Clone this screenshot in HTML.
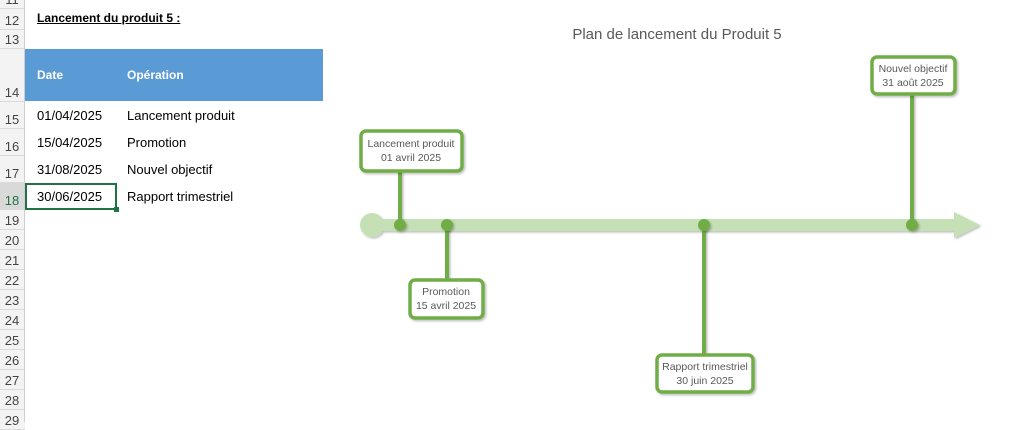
<!DOCTYPE html>
<html><head><meta charset="utf-8"><style>
body{margin:0;width:1021px;height:422px;overflow:hidden;background:#fff;font-family:"Liberation Sans",sans-serif;position:relative}
.rh{position:absolute;left:0;width:25px;background:#f3f3f3;border-bottom:1px solid #dadada;box-sizing:border-box;color:#444;font-size:13px;text-align:center;line-height:1;}
.rh span{position:absolute;bottom:2px;left:0;width:24px;text-align:center}
.vline{position:absolute;left:24px;top:0;width:1px;height:422px;background:#cfcfcf}
.t{position:absolute;font-size:13px;color:#000;white-space:nowrap}
</style></head><body>
<div class="rh" style="top:-10px;height:19px"><span>11</span></div>
<div class="rh" style="top:9px;height:21px"><span>12</span></div>
<div class="rh" style="top:30px;height:19px"><span>13</span></div>
<div class="rh" style="top:49px;height:53px"><span>14</span></div>
<div class="rh" style="top:102px;height:27px"><span>15</span></div>
<div class="rh" style="top:129px;height:27px"><span>16</span></div>
<div class="rh" style="top:156px;height:27px"><span>17</span></div>
<div class="rh" style="top:183px;height:27px;background:#d9d9d9;color:#217346"><span>18</span></div>
<div class="rh" style="top:210px;height:20px"><span>19</span></div>
<div class="rh" style="top:230px;height:20px"><span>20</span></div>
<div class="rh" style="top:250px;height:20px"><span>21</span></div>
<div class="rh" style="top:270px;height:20px"><span>22</span></div>
<div class="rh" style="top:290px;height:20px"><span>23</span></div>
<div class="rh" style="top:310px;height:20px"><span>24</span></div>
<div class="rh" style="top:330px;height:20px"><span>25</span></div>
<div class="rh" style="top:350px;height:20px"><span>26</span></div>
<div class="rh" style="top:370px;height:20px"><span>27</span></div>
<div class="rh" style="top:390px;height:20px"><span>28</span></div>
<div class="rh" style="top:410px;height:20px"><span>29</span></div>
<div class="vline"></div>

<div class="t" style="left:37px;top:11px;font-weight:bold;text-decoration:underline;font-size:12px">Lancement du produit 5 :</div>
<div style="position:absolute;left:25px;top:49px;width:298px;height:52px;background:#5b9bd5"></div>
<div class="t" style="left:37px;top:68px;color:#fff;font-weight:bold;font-size:12px">Date</div>
<div class="t" style="left:127px;top:68px;color:#fff;font-weight:bold;font-size:12px">Opération</div>
<div class="t" style="left:37px;top:108px">01/04/2025</div><div class="t" style="left:127px;top:108px">Lancement produit</div>
<div class="t" style="left:37px;top:135px">15/04/2025</div><div class="t" style="left:127px;top:135px">Promotion</div>
<div class="t" style="left:37px;top:162px">31/08/2025</div><div class="t" style="left:127px;top:162px">Nouvel objectif</div>
<div class="t" style="left:37px;top:189px">30/06/2025</div><div class="t" style="left:127px;top:189px">Rapport trimestriel</div>
<div style="position:absolute;left:25px;top:183px;width:92px;height:27px;box-sizing:border-box;border:2px solid #217346"></div>
<div style="position:absolute;left:114px;top:207px;width:5px;height:5px;background:#217346"></div>

<svg width="1021" height="422" style="position:absolute;left:0;top:0" font-family="Liberation Sans, sans-serif">
<defs><filter id="sh" x="-20%" y="-20%" width="140%" height="140%"><feDropShadow dx="1.5" dy="1.5" stdDeviation="1" flood-color="#000" flood-opacity="0.25"/></filter></defs>
<text x="677" y="39" text-anchor="middle" font-size="15" fill="#595959">Plan de lancement du Produit 5</text>
<g filter="url(#sh)">
<circle cx="372" cy="225" r="12" fill="#c5e0b4"/>
<rect x="372" y="219" width="584" height="12" fill="#c5e0b4"/>
<polygon points="954,212 980,225 954,238" fill="#c5e0b4"/>
</g>
<g stroke="#70ad47" stroke-width="4" filter="url(#sh)">
<line x1="400" y1="172" x2="400" y2="225"/>
<line x1="447" y1="225" x2="447" y2="279"/>
<line x1="704" y1="225" x2="704" y2="354"/>
<line x1="912" y1="95" x2="912" y2="225"/>
</g>
<g fill="#70ad47" filter="url(#sh)">
<circle cx="400" cy="225" r="6"/><circle cx="447" cy="225" r="6"/><circle cx="704" cy="225" r="6"/><circle cx="912" cy="225" r="6"/>
</g>
<g fill="#fff" stroke="#70ad47" stroke-width="3.5" filter="url(#sh)">
<rect x="361" y="131" width="101" height="40" rx="5"/>
<rect x="410" y="280" width="73" height="38" rx="5"/>
<rect x="657" y="355" width="96" height="37" rx="5"/>
<rect x="872" y="57" width="83" height="37" rx="5"/>
</g>
<g font-size="10.5" fill="#595959" text-anchor="middle">
<text x="411" y="147">Lancement produit</text><text x="411" y="161">01 avril 2025</text>
<text x="446" y="295">Promotion</text><text x="446" y="309">15 avril 2025</text>
<text x="705" y="370">Rapport trimestriel</text><text x="705" y="384">30 juin 2025</text>
<text x="913" y="72">Nouvel objectif</text><text x="913" y="86">31 août 2025</text>
</g>
</svg>
</body></html>
